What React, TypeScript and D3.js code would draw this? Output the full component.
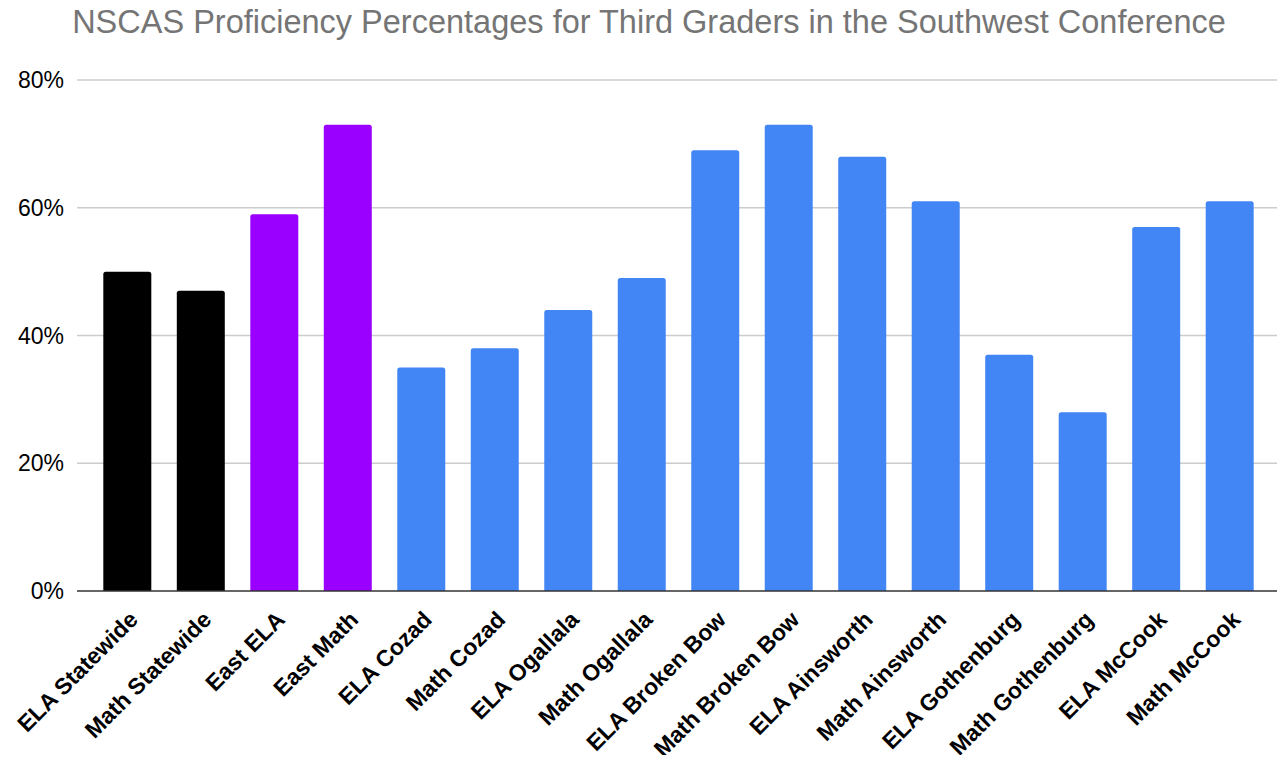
import React, { useEffect, useRef } from 'react';
import * as d3 from 'd3';

const categories = [
  'ELA Statewide', 'Math Statewide', 'East ELA', 'East Math',
  'ELA Cozad', 'Math Cozad', 'ELA Ogallala', 'Math Ogallala',
  'ELA Broken Bow', 'Math Broken Bow', 'ELA Ainsworth', 'Math Ainsworth',
  'ELA Gothenburg', 'Math Gothenburg', 'ELA McCook', 'Math McCook',
];
const values = [50, 47, 59, 73, 35, 38, 44, 49, 69, 73, 68, 61, 37, 28, 57, 61];
const groups = ['state', 'state', 'east', 'east', 'sw', 'sw', 'sw', 'sw', 'sw', 'sw', 'sw', 'sw', 'sw', 'sw', 'sw', 'sw'];
const yTicks = [0, 20, 40, 60, 80];

const colors = { state: '#000000', east: '#9900ff', sw: '#4285f4' };
const title = 'NSCAS Proficiency Percentages for Third Graders in the Southwest Conference';
const font = 'Arial, "Liberation Sans", Helvetica, sans-serif';

const App = () => {
  const ref = useRef<SVGSVGElement>(null);

  useEffect(() => {
    const svg = d3.select(ref.current);
    svg.selectAll('*').remove();

    const W = 1285, H = 763;
    const left = 77, right = 1280, top = 80, bottom = 591;

    const x = d3.scaleBand()
      .domain(categories)
      .range([left, right])
      .paddingInner(0.347)
      .paddingOuter(0.358);

    const y = d3.scaleLinear().domain([0, 80]).range([bottom, top]);

    svg.append('rect').attr('width', W).attr('height', H).attr('fill', '#fff');

    svg.append('text')
      .attr('x', 649)
      .attr('y', 33)
      .attr('text-anchor', 'middle')
      .attr('font-family', font)
      .attr('font-size', 32.5)
      .attr('fill', '#757575')
      .text(title);

    // grid
    svg.append('g')
      .selectAll('line')
      .data(yTicks.filter(d => d > 0))
      .enter().append('line')
      .attr('x1', left).attr('x2', right)
      .attr('y1', d => y(d)).attr('y2', d => y(d))
      .attr('stroke', '#cccccc')
      .attr('stroke-width', 1.5);

    svg.append('g')
      .selectAll('text')
      .data(yTicks)
      .enter().append('text')
      .attr('x', 64)
      .attr('y', d => y(d))
      .attr('dy', '0.35em')
      .attr('text-anchor', 'end')
      .attr('font-family', font)
      .attr('font-size', 23)
      .attr('fill', '#000')
      .text(d => d + '%');

    // bars with rounded top corners
    const r = 2.5;
    svg.append('g')
      .selectAll('path')
      .data(values)
      .enter().append('path')
      .attr('fill', (d, i) => colors[groups[i]])
      .attr('d', (d, i) => {
        const x0 = x(categories[i])!;
        const w = x.bandwidth();
        const y0 = y(d);
        return `M${x0},${bottom}V${y0 + r}Q${x0},${y0} ${x0 + r},${y0}H${x0 + w - r}Q${x0 + w},${y0} ${x0 + w},${y0 + r}V${bottom}Z`;
      });

    svg.append('line')
      .attr('x1', left).attr('x2', right)
      .attr('y1', bottom).attr('y2', bottom)
      .attr('stroke', '#333333')
      .attr('stroke-width', 1.5);

    svg.append('g')
      .selectAll('text')
      .data(categories)
      .enter().append('text')
      .attr('transform', d => `translate(${x(d)! + x.bandwidth() / 2 + 12},${bottom + 30}) rotate(-45)`)
      .attr('text-anchor', 'end')
      .attr('font-family', font)
      .attr('font-weight', 'bold')
      .attr('font-size', 23)
      .attr('fill', '#000')
      .text(d => d);
  }, []);

  return <svg ref={ref} width={1285} height={763} style={{ display: 'block', margin: -8 }} />;
};

export default App;
